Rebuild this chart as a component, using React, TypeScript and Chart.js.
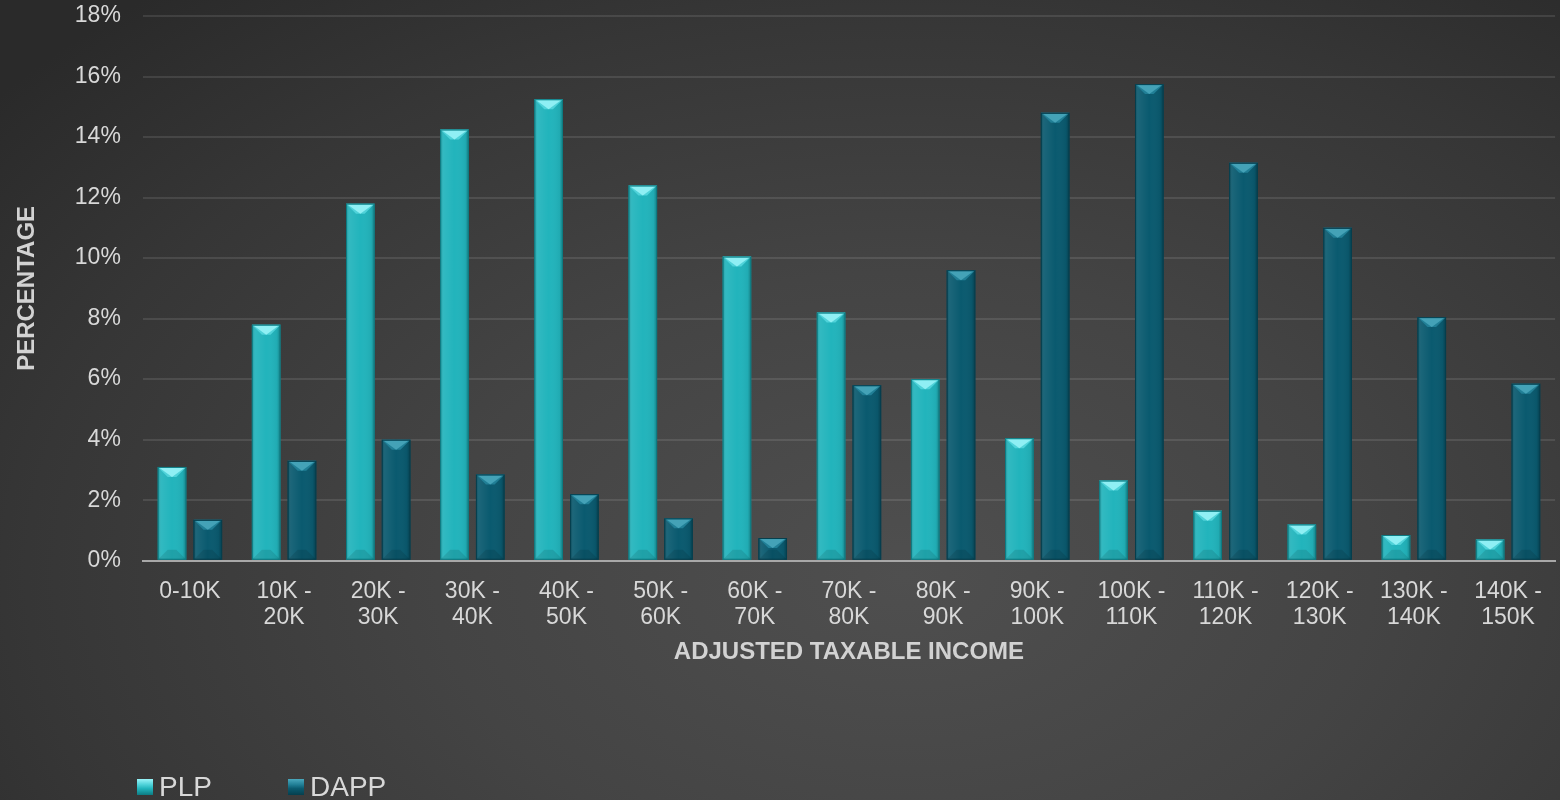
import React, { useEffect, useRef } from "react";
import { Chart, registerables } from "chart.js";

Chart.register(...registerables);

const categories: string[][] = [
  ["0-10K"], ["10K -", "20K"], ["20K -", "30K"], ["30K -", "40K"], ["40K -", "50K"],
  ["50K -", "60K"], ["60K -", "70K"], ["70K -", "80K"], ["80K -", "90K"], ["90K -", "100K"],
  ["100K -", "110K"], ["110K -", "120K"], ["120K -", "130K"], ["130K -", "140K"], ["140K -", "150K"],
];
const seriesNames = ["PLP", "DAPP"];
const plpValues = [3.1, 7.8, 11.8, 14.25, 15.25, 12.4, 10.05, 8.2, 6.0, 4.05, 2.65, 1.65, 1.2, 0.85, 0.7];
const dappValues = [1.35, 3.3, 4.0, 2.85, 2.2, 1.4, 0.75, 5.8, 9.6, 14.8, 15.75, 13.15, 11.0, 8.05, 5.85];
const yTicks = [0, 2, 4, 6, 8, 10, 12, 14, 16, 18];
const xTitle = "ADJUSTED TAXABLE INCOME";
const yTitle = "PERCENTAGE";

const FONT = "'Liberation Sans', Arial, sans-serif";
const palette = [
  { body: "#22b4bc", light: "#9af4f8", mid: "#4fd2d9", edge: "#0d7b82" },
  { body: "#0a5a6f", light: "#4aa8bd", mid: "#217f96", edge: "#063f4e" },
];

const zeroPad = (s: any) => {
  s.paddingTop = 0;
  s.paddingBottom = 0;
};

const bevelPlugin = {
  id: "bevel",
  afterDatasetsDraw(chart: any) {
    const ctx = chart.ctx;
    chart.data.datasets.forEach((_: any, di: number) => {
      const meta = chart.getDatasetMeta(di);
      const c = palette[di];
      meta.data.forEach((bar: any) => {
        const { x, y, base, width } = bar.getProps(["x", "y", "base", "width"], true);
        const l = x - width / 2;
        const r = x + width / 2;
        const h = base - y;
        const b = Math.min(10, h / 2, width / 2);
        ctx.save();
        const g = ctx.createLinearGradient(l, 0, r, 0);
        g.addColorStop(0, "rgba(0,0,0,0.22)");
        g.addColorStop(0.12, "rgba(255,255,255,0.07)");
        g.addColorStop(0.5, "rgba(255,255,255,0.0)");
        g.addColorStop(0.88, "rgba(0,0,0,0.05)");
        g.addColorStop(1, "rgba(0,0,0,0.3)");
        ctx.fillStyle = g;
        ctx.fillRect(l, y, width, h);
        ctx.beginPath();
        ctx.moveTo(l, y);
        ctx.lineTo(r, y);
        ctx.lineTo(r - b, y + b);
        ctx.lineTo(l + b, y + b);
        ctx.closePath();
        ctx.fillStyle = c.mid;
        ctx.fill();
        ctx.beginPath();
        ctx.moveTo(l + 2, y + 1);
        ctx.lineTo(r - 2, y + 1);
        ctx.lineTo(x, y + b);
        ctx.closePath();
        ctx.fillStyle = c.light;
        ctx.globalAlpha = 0.85;
        ctx.fill();
        ctx.globalAlpha = 1;
        ctx.beginPath();
        ctx.moveTo(l, base);
        ctx.lineTo(r, base);
        ctx.lineTo(r - b, base - b);
        ctx.lineTo(l + b, base - b);
        ctx.closePath();
        ctx.fillStyle = "rgba(0,0,0,0.1)";
        ctx.fill();
        ctx.strokeStyle = c.edge;
        ctx.lineWidth = 1;
        ctx.strokeRect(l + 0.5, y + 0.5, width - 1, h - 1);
        ctx.restore();
      });
    });
  },
};

export default function App() {
  const ref = useRef<HTMLCanvasElement | null>(null);
  useEffect(() => {
    if (!ref.current) return;
    const chart = new Chart(ref.current, {
      type: "bar",
      data: {
        labels: categories,
        datasets: [
          { label: seriesNames[0], data: plpValues, backgroundColor: palette[0].body, borderWidth: 0 },
          { label: seriesNames[1], data: dappValues, backgroundColor: palette[1].body, borderWidth: 0 },
        ],
      },
      options: {
        responsive: false,
        animation: false,
        layout: { padding: { top: 16, right: 3, left: 0, bottom: 133.5 } },
        datasets: { bar: { categoryPercentage: 0.76, barPercentage: 0.8 } },
        plugins: { legend: { display: false }, tooltip: { enabled: false } },
        scales: {
          x: {
            afterFit: zeroPad,
            grid: { display: false, drawTicks: false },
            border: { display: true, color: "#a8a8a8", width: 2 },
            ticks: { color: "#d8d8d8", font: { family: FONT, size: 23, lineHeight: 1.13 }, padding: 18, maxRotation: 0, autoSkip: false },
            title: { display: true, text: xTitle, color: "#d2d2d2", font: { family: FONT, size: 24, weight: "bold" }, padding: { top: -11, bottom: 0 } },
          },
          y: {
            afterFit: zeroPad,
            min: 0,
            max: 18,
            afterBuildTicks: (axis: any) => { axis.ticks = yTicks.map((v) => ({ value: v })); },
            grid: { color: (c: any) => (c.tick && c.tick.value === 0 ? "rgba(0,0,0,0)" : "rgba(255,255,255,0.1)"), lineWidth: 2, drawTicks: false },
            border: { display: false },
            ticks: { color: "#d8d8d8", font: { family: FONT, size: 23 }, padding: 22, callback: (v: any) => v + "%" },
            title: { display: true, text: yTitle, color: "#d2d2d2", font: { family: FONT, size: 24, weight: "bold" }, padding: { top: 13, bottom: 11 } },
          },
        },
      },
      plugins: [bevelPlugin],
    });
    return () => chart.destroy();
  }, []);

  const legendBox = (i: number) => ({
    position: "absolute" as const,
    top: 779,
    left: i === 0 ? 137 : 288,
    display: "flex",
    alignItems: "center",
    fontFamily: FONT,
    fontSize: 28,
    color: "#d8d8d8",
    lineHeight: "16px",
  });

  return (
    <div
      style={{
        position: "fixed",
        left: 0,
        top: 0,
        width: 1560,
        height: 800,
        overflow: "hidden",
        background: "radial-gradient(ellipse 75% 95% at 58% 72%, #4f4f4f 0%, #444444 40%, #363636 75%, #2a2a2a 100%)",
      }}
    >
      <canvas ref={ref} width={1560} height={800} style={{ position: "absolute", left: 0, top: 0 }} />
      {seriesNames.map((n, i) => (
        <div key={n} style={legendBox(i)}>
          <span
            style={{
              display: "inline-block",
              width: 16,
              height: 16,
              marginRight: 6,
              background: `linear-gradient(180deg, ${palette[i].light} 0%, ${palette[i].mid} 35%, ${palette[i].body} 60%, ${palette[i].edge} 100%)`,
            }}
          />
          <span>{n}</span>
        </div>
      ))}
    </div>
  );
}
